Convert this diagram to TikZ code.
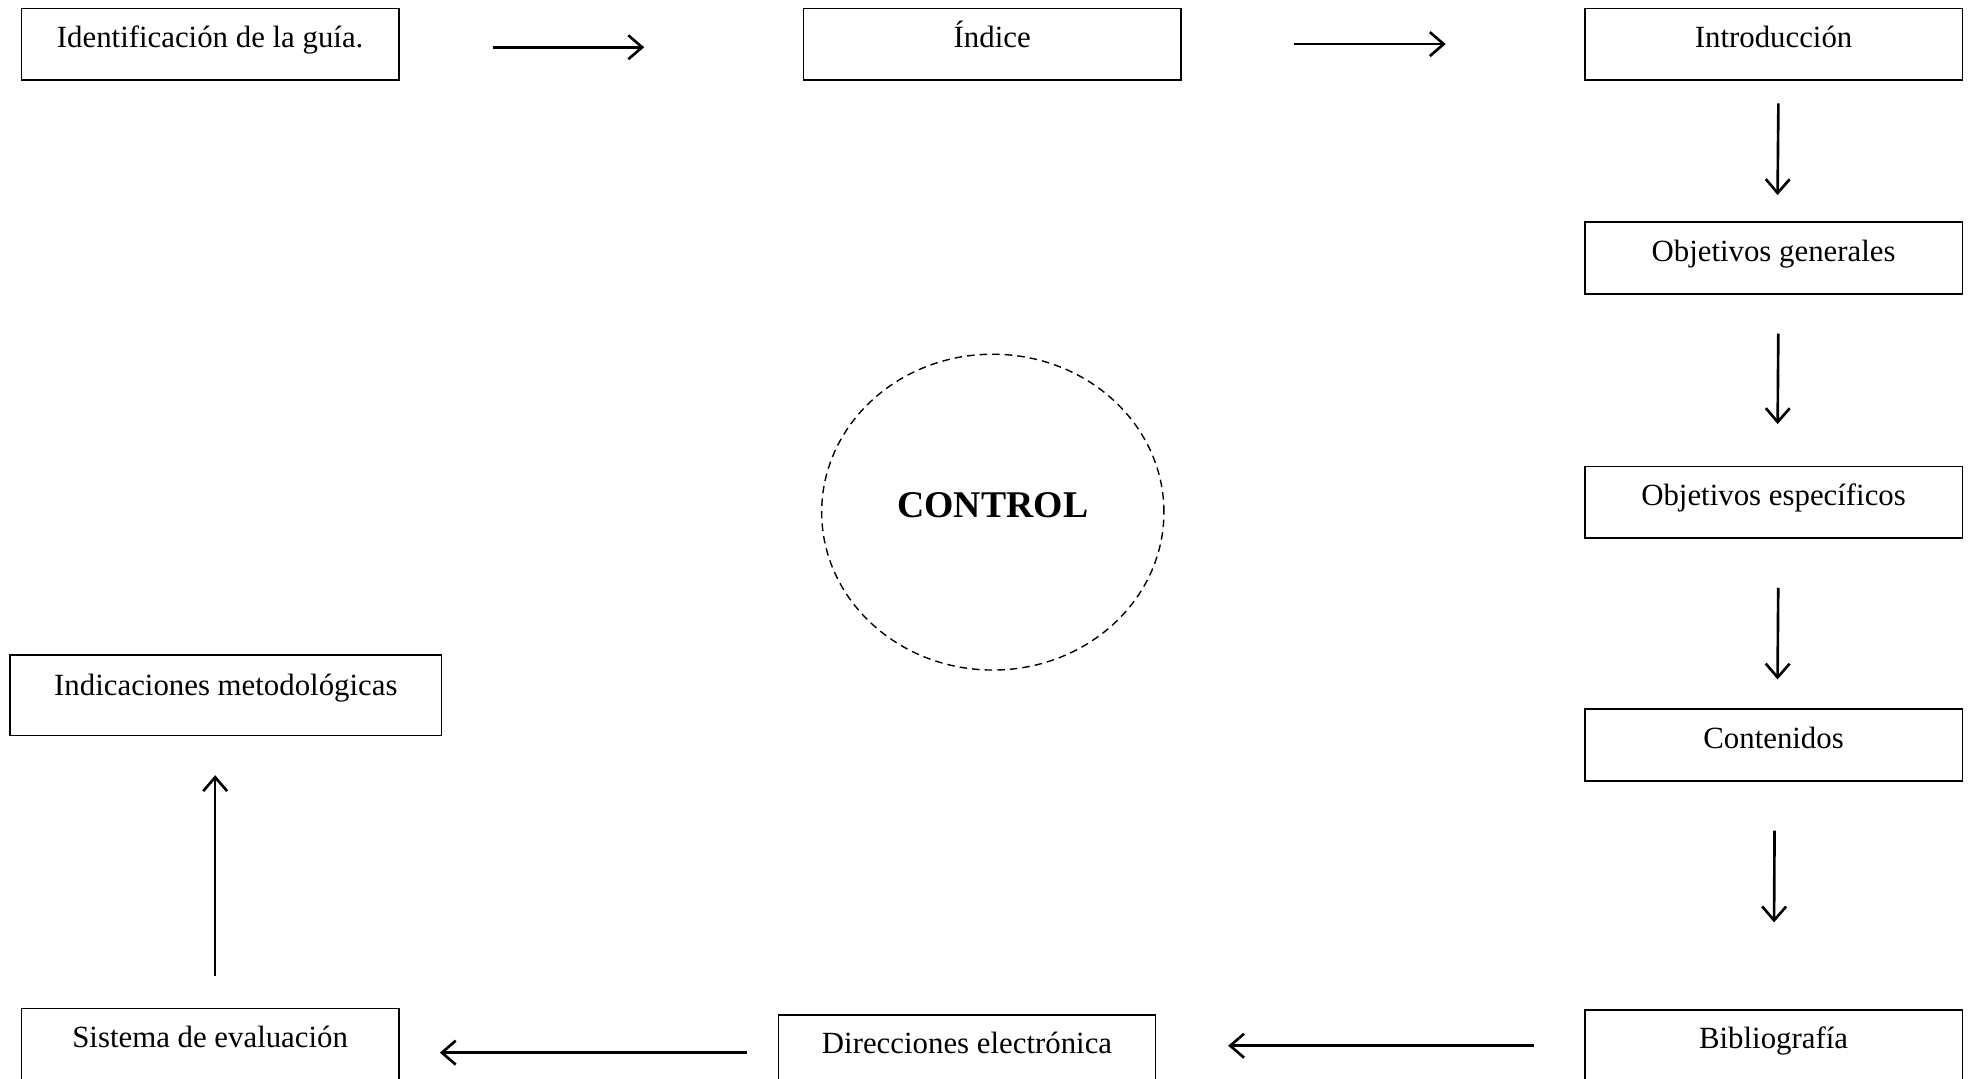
\documentclass[tikz,border=0pt]{standalone}
\usepackage{fontspec}
\setmainfont{Liberation Serif}
\usetikzlibrary{arrows.meta,shapes.geometric}

\tikzset{
  caja/.style={draw, line width=1.1pt, minimum width=300pt, inner xsep=4pt,
    inner ysep=3pt, text height=28pt, text depth=23pt, anchor=north,
    font=\fontsize{24.5}{28}\selectfont},
  flecha/.style={line width=2.1pt, -{Straight Barb[length=11pt,width=19pt]}},
}

\begin{document}
\begin{tikzpicture}[x=1pt,y=-1pt]
\clip (0,0) rectangle (1568,857.5);
% fila de arriba
\node[caja] (ident) at (167,6) {Identificación de la guía.};
\node[caja] (indice) at (788.5,6) {Índice};
\node[caja] (intro) at (1409.5,6) {Introducción};
% columna derecha
\node[caja] (objgen) at (1409.5,176) {Objetivos generales};
\node[caja] (objesp) at (1409.5,370) {Objetivos específicos};
\node[caja] (cont) at (1409.5,563) {Contenidos};
\node[caja] (biblio) at (1409.5,802) {Bibliografía};
% fila de abajo
\node[caja] (direc) at (768.5,806) {Direcciones electrónica};
\node[caja] (sistema) at (167,801) {Sistema de evaluación};
\node[caja, minimum width=343pt, text height=29pt, text depth=29pt]
    (indic) at (179.5,520) {Indicaciones metodológicas};
% centro
\node[ellipse, draw, dashed, line width=1.1pt, dash pattern=on 6pt off 4pt,
    minimum width=272pt, minimum height=251pt, text depth=12pt,
    font=\bfseries\fontsize{30}{36}\selectfont] (control) at (789,407) {CONTROL};

\draw[flecha, shorten <=74pt, shorten >=126pt]
    ([yshift=-2.5pt]ident.east) -- ([yshift=-2.5pt]indice.west);
\draw[flecha, shorten <=89pt, shorten >=110pt] (indice.east) -- (intro.west);
\draw[flecha, shorten <=18pt, shorten >=21pt]
    ([xshift=4pt]intro.south) -- ([xshift=3pt]objgen.north);
\draw[flecha, shorten <=31pt, shorten >=33pt]
    ([xshift=4pt]objgen.south) -- ([xshift=3pt]objesp.north);
\draw[flecha, shorten <=39pt, shorten >=23pt]
    ([xshift=4pt]objesp.south) -- ([xshift=3pt]cont.north);
\draw[flecha, shorten <=39pt, shorten >=69pt]
    ([xshift=1pt]cont.south) -- (biblio.north);
\draw[flecha, shorten <=40pt, shorten >=57pt] (biblio.west) -- (biblio.west -| direc.east);
\draw[flecha, shorten <=24pt, shorten >=32pt]
    ([yshift=-1.5pt]direc.west) -- ([yshift=-1.5pt]direc.west -| sistema.east);
\draw[flecha, shorten <=25pt, shorten >=31pt]
    ([xshift=4pt]sistema.north) -- ([xshift=4pt]sistema.north |- indic.south);
\end{tikzpicture}
\end{document}
